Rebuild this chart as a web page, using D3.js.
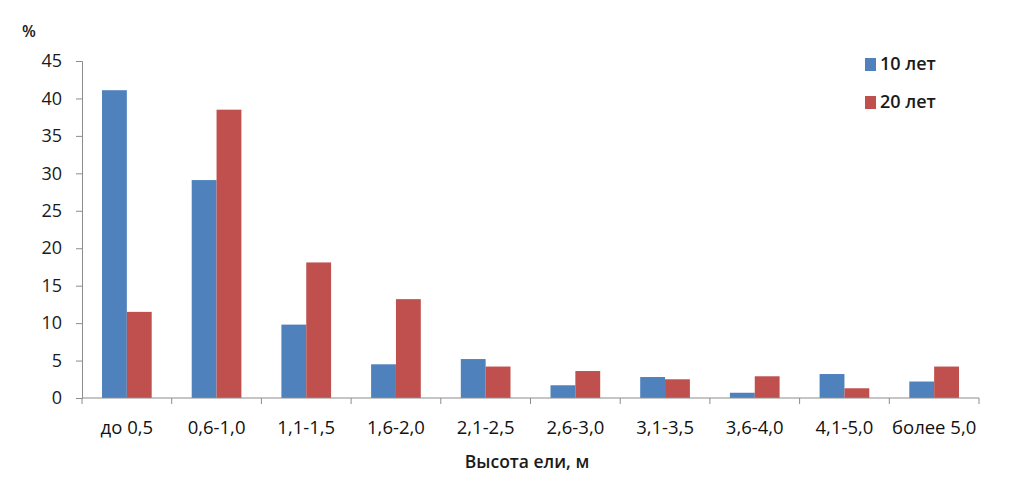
<!DOCTYPE html>
<html>
<head>
<meta charset="utf-8">
<script src="https://cdn.jsdelivr.net/npm/d3@7"></script>
<style>
  body { margin: 0; background: #fff; }
  text { font-family: "Open Sans", sans-serif; fill: #1a1a1a; }
</style>
</head>
<body>
<div id="chart"></div>
<script>
const categories = ["до 0,5", "0,6-1,0", "1,1-1,5", "1,6-2,0", "2,1-2,5", "2,6-3,0", "3,1-3,5", "3,6-4,0", "4,1-5,0", "более 5,0"];
const series = ["10 лет", "20 лет"];
const years10 = [41.1, 29.1, 9.8, 4.5, 5.2, 1.7, 2.8, 0.7, 3.2, 2.2];
const years20 = [11.5, 38.5, 18.1, 13.2, 4.2, 3.6, 2.5, 2.9, 1.3, 4.2];
const yTicks = [0, 5, 10, 15, 20, 25, 30, 35, 40, 45];
const colors = ["#4F81BD", "#C0504D"];

const width = 1016, height = 487;
const svg = d3.select("#chart").append("svg")
    .attr("width", width)
    .attr("height", height);

const x = d3.scaleBand().domain(categories).range([82, 979]).paddingInner(0).paddingOuter(0);
const inner = d3.scaleBand().domain(series).range([20, x.bandwidth() - 20]);
const y = d3.scaleLinear().domain([0, 45]).range([398, 61]);

const rows = categories.map((c, i) => ({ cat: c, vals: [years10[i], years20[i]] }));

// bars
const groups = svg.selectAll("g.grp")
    .data(rows)
    .join("g")
    .attr("class", "grp")
    .attr("transform", d => `translate(${x(d.cat)},0)`);

groups.selectAll("rect")
    .data(d => d.vals.map((v, j) => ({ s: series[j], v, j })))
    .join("rect")
    .attr("x", d => inner(d.s))
    .attr("width", inner.bandwidth())
    .attr("y", d => y(d.v))
    .attr("height", d => y(0) - y(d.v))
    .attr("fill", d => colors[d.j]);

// y axis
const yAxis = svg.append("g")
    .attr("transform", "translate(82,0)")
    .call(d3.axisLeft(y).tickValues(yTicks).tickSize(6).tickPadding(14).tickFormat(d3.format("d")));
yAxis.select(".domain").attr("stroke", "#8c8c8c");
yAxis.selectAll(".tick line").attr("stroke", "#8c8c8c");
yAxis.selectAll(".tick text").style("font-size", "18px").style("font-family", "Open Sans, sans-serif").attr("fill", "#111");

// x axis
const bounds = d3.range(categories.length + 1).map(i => 82 + i * x.step());
svg.append("line")
    .attr("x1", 82).attr("x2", 979)
    .attr("y1", y(0)).attr("y2", y(0))
    .attr("stroke", "#8c8c8c");
svg.selectAll("line.xt")
    .data(bounds)
    .join("line")
    .attr("class", "xt")
    .attr("x1", d => d).attr("x2", d => d)
    .attr("y1", y(0)).attr("y2", y(0) + 6)
    .attr("stroke", "#8c8c8c");
svg.selectAll("text.xl")
    .data(categories)
    .join("text")
    .attr("class", "xl")
    .attr("x", d => x(d) + x.bandwidth() / 2)
    .attr("y", 434)
    .attr("text-anchor", "middle")
    .style("font-size", "18.5px")
    .style("fill", "#111")
    .text(d => d);

// titles
svg.append("text")
    .attr("x", 527).attr("y", 468)
    .attr("text-anchor", "middle")
    .style("font-size", "17.5px")
    .style("font-weight", "600")
    .text("Высота ели, м");
svg.append("text")
    .attr("x", 22).attr("y", 37)
    .style("font-size", "16px")
    .style("font-weight", "600")
    .text("%");

// legend
const legend = svg.selectAll("g.leg")
    .data(series)
    .join("g")
    .attr("class", "leg")
    .attr("transform", (d, i) => `translate(865,${58 + i * 38})`);
legend.append("rect")
    .attr("width", 11).attr("height", 13)
    .attr("fill", (d, i) => colors[i]);
legend.append("text")
    .attr("x", 15).attr("y", 12)
    .style("font-size", "18px")
    .style("font-weight", "600")
    .text(d => d);
</script>
</body>
</html>
